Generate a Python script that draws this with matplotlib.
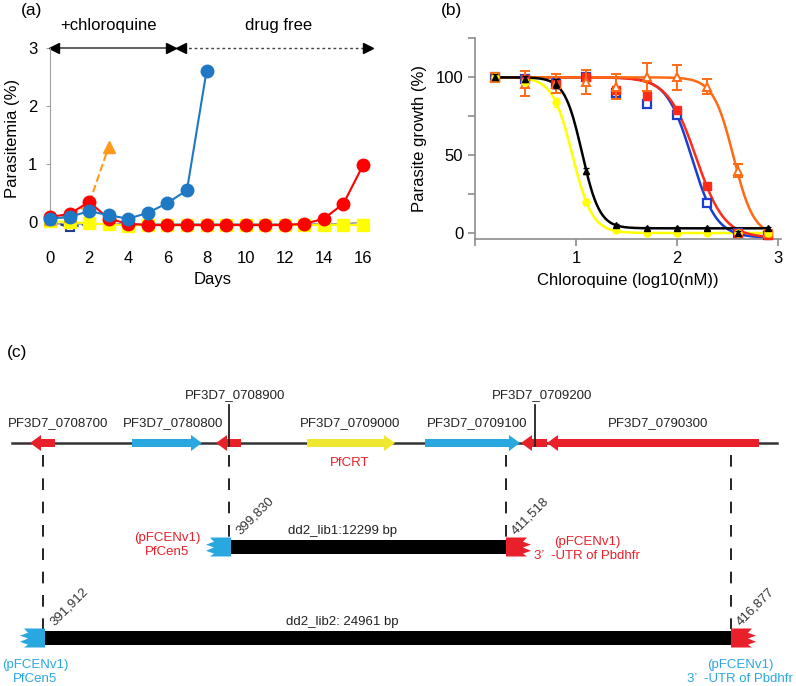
import numpy as np
import matplotlib.pyplot as plt
from matplotlib.patches import Polygon

plt.rcParams['font.family'] = ['Liberation Sans', 'DejaVu Sans']

# ---- (a) parasitemia over days ----
days = [0, 1, 2, 3, 4, 5, 6, 7, 8, 9, 10, 11, 12, 13, 14, 15, 16]
blue_days = [0, 1, 2, 3, 4, 5, 6, 7, 8]
blue_vals = [0.06, 0.09, 0.19, 0.12, 0.06, 0.16, 0.33, 0.55, 2.6]
red_vals = [0.09, 0.14, 0.35, 0.06, -0.03, -0.05, -0.05, -0.05, -0.05,
            -0.05, -0.05, -0.05, -0.05, -0.03, 0.06, 0.32, 0.98]
orange_days = [0, 1, 2, 3]
orange_vals = [0.05, 0.1, 0.32, 1.3]
yellow_vals = [0.02, 0.0, -0.02, -0.04, -0.06, -0.05, -0.05, -0.05, -0.05,
               -0.05, -0.05, -0.05, -0.05, -0.05, -0.05, -0.05, -0.05]
navy_days = [0, 1, 2]
navy_vals = [0.02, -0.09, -0.02]
gray_vals = [-0.03, -0.03, -0.03, -0.03, -0.03, -0.03, -0.03, -0.03, -0.03,
             -0.03, -0.03, -0.03, -0.03, -0.03, -0.03, -0.03, 0.0]

# ---- (b) dose response ----
conc = [0.2, 0.5, 0.8, 1.1, 1.4, 1.7, 2.0, 2.3, 2.6, 2.9]
yellow_b = [100, 97, 84, 20, 2, 0, 0, 0, 0, 0]
black_b = [100, 99, 96, 40, 5, 3, 3, 3, 0, 3]
blue_b = [100, 99, 96, 100, 90, 83, 76, 19, 0, -1]
red_b = [100, 99, 96, 100, 92, 88, 79, 30, 0, -1]
orange_b = [100, 96, 96, 97, 94, 100, 100, 94, 40, 0]
orange_err = [3, 8, 6, 8, 8, 9, 8, 5, 4, 2]
small_err = [2, 2, 3, 2, 1, 1, 1, 1, 1, 1]
# fitted curves: top, bottom, logIC50, hill
fit_yellow = [100, 0, 0.965, 4.4]
fit_black = [100, 3, 1.06, 5.0]
fit_blue = [100, -3, 2.146, 3.5]
fit_red = [100, -3, 2.19, 3.1]
fit_orange = [100, -2, 2.56, 4.3]

# ---- (c) gene map ----
gene_names = ['PF3D7_0708700', 'PF3D7_0780800', 'PF3D7_0708900', 'PF3D7_0709000',
              'PF3D7_0709100', 'PF3D7_0709200', 'PF3D7_0790300']
gene_start = [30, 132, 216, 307, 425, 521, 547]
gene_end = [55, 202, 241, 395, 520, 547, 759]
gene_dir = ['-', '+', '-', '+', '+', '-', '-']
gene_color = ['#e8202a', '#29a8e0', '#e8202a', '#f0e830', '#29a8e0', '#e8202a', '#e8202a']
gene_label_x = [58, 173, 235, 350, 477, 542, 658]
gene_label_high = [False, False, True, False, False, True, False]
gene_leader_x = [None, None, 229, None, None, 535, None]

lib_names = ['dd2_lib1:12299 bp', 'dd2_lib2: 24961 bp']
lib_start = [231, 45]
lib_end = [506, 731]
lib_y = [547, 638]
lib_left_pos = ['399,830', '391,912']
lib_right_pos = ['411,518', '416,877']
lib_text_color = ['#e8202a', '#29a8e0']

fig = plt.figure(figsize=(7.96, 6.86), dpi=100)

# ================= panel (a) =================
ax1 = fig.add_axes([0.0628, 0.666, 0.408, 0.264])
ax1.plot(days, gray_vals, color='#a0a0a0', lw=1.2, marker='^', ms=3,
         mfc='#222222', mec='#222222', clip_on=False, zorder=2)
ax1.plot(days, yellow_vals, color='#ffff00', lw=1.5, marker='s', ms=8,
         clip_on=False, zorder=3)
ax1.plot(navy_days, navy_vals, color='#1f3c88', lw=1.5, ls='--', marker='s',
         ms=6, mfc='white', mec='#1f3c88', mew=1.5, clip_on=False, zorder=2.5)
ax1.plot(orange_days, orange_vals, color='#ff9a1a', lw=1.5, ls='--', marker='^',
         ms=9, clip_on=False, zorder=3.5)
ax1.plot(days, red_vals, color='#ff0000', lw=1.5, marker='o', ms=9,
         clip_on=False, zorder=4)
ax1.plot(blue_days, blue_vals, color='#1f78c4', lw=1.5, marker='o', ms=9,
         clip_on=False, zorder=5)

ax1.set_xlim(0, 16.6)
ax1.set_ylim(-0.12, 3)
ax1.set_xticks([0, 2, 4, 6, 8, 10, 12, 14, 16])
ax1.set_yticks([0, 1, 2, 3])
for s in ['top', 'right', 'bottom']:
    ax1.spines[s].set_visible(False)
ax1.spines['left'].set_color('#a0a0a0')
ax1.spines['left'].set_bounds(-0.05, 3)
ax1.tick_params(axis='x', length=0, pad=16, labelsize=12)
ax1.tick_params(axis='y', length=3, color='#a0a0a0', pad=6, labelsize=12)
ax1.set_xlabel('Days', fontsize=12, labelpad=4)
ax1.set_ylabel('Parasitemia (%)', fontsize=12, labelpad=6)

# treatment arrows
ax1.plot([0.1, 6.3], [3, 3], color='#444444', lw=1.2, clip_on=False)
ax1.plot([0.2], [3], marker='<', color='black', ms=7, clip_on=False)
ax1.plot([6.2], [3], marker='>', color='black', ms=7, clip_on=False)
ax1.plot([6.8, 16.2], [3, 3], color='#444444', lw=1.0, ls=(0, (2, 2)), clip_on=False)
ax1.plot([6.7], [3], marker='<', color='black', ms=7, clip_on=False)
ax1.plot([16.25], [3], marker='>', color='black', ms=7, clip_on=False)
ax1.text(3.0, 3.38, '+chloroquine', ha='center', va='center', fontsize=12)
ax1.text(11.7, 3.38, 'drug free', ha='center', va='center', fontsize=12)
fig.text(0.040, 0.985, '(a)', ha='center', va='center', fontsize=12.5)

# ================= panel (b) =================
ax2 = fig.add_axes([0.5967, 0.6513, 0.3844, 0.2927])
xs = np.linspace(0.2, 2.9, 300)


def hill(x, p):
    top, bottom, ic, h = p
    return bottom + (top - bottom) / (1 + 10 ** ((x - ic) * h))


ax2.plot(xs, hill(xs, fit_yellow), color='#ffff00', lw=1.8, zorder=2)
ax2.plot(xs, hill(xs, fit_black), color='black', lw=1.8, zorder=3)
ax2.plot(xs, hill(xs, fit_blue), color='#1a3fd0', lw=1.8, zorder=2)
ax2.plot(xs, hill(xs, fit_red), color='#ff2a1a', lw=1.8, zorder=2)
ax2.plot(xs, hill(xs, fit_orange), color='#ff6a13', lw=1.8, zorder=2)

ax2.errorbar(conc, blue_b, yerr=small_err, fmt='s', ms=6, mfc='white', mec='#1a3fd0',
             mew=1.6, ecolor='#1a3fd0', capsize=3, lw=1.2, zorder=4, clip_on=False)
ax2.errorbar(conc, red_b, yerr=small_err, fmt='s', ms=5.5, color='#ff2a1a',
             ecolor='#ff2a1a', capsize=3, lw=1.2, zorder=4, clip_on=False)
ax2.errorbar(conc, orange_b, yerr=orange_err, fmt='^', ms=6, mfc='white', mec='#ff6a13',
             mew=1.4, ecolor='#ff6a13', capsize=3.5, lw=1.4, zorder=5, clip_on=False)
ax2.errorbar(conc, yellow_b, yerr=small_err, fmt='o', ms=5, color='#ffff00',
             ecolor='#ffff00', capsize=2, lw=1.2, zorder=5, clip_on=False)
ax2.errorbar(conc, black_b, yerr=small_err, fmt='^', ms=5, color='black',
             ecolor='black', capsize=2, lw=1.2, zorder=6, clip_on=False)

ax2.set_xlim(0, 3.03)
ax2.set_ylim(-4, 125)
ax2.set_xticks([0, 1, 2, 3])
ax2.set_xticklabels(['', '1', '2', '3'])
ax2.set_yticks([0, 25, 50, 75, 100, 125])
ax2.set_yticklabels(['0', '', '50', '', '100', ''])
for s in ['top', 'right']:
    ax2.spines[s].set_visible(False)
for s in ['left', 'bottom']:
    ax2.spines[s].set_color('#8c8c8c')
    ax2.spines[s].set_linewidth(1.2)
ax2.tick_params(length=5, color='#8c8c8c', width=1.2, labelsize=12)
ax2.set_xlabel('Chloroquine (log10(nM))', fontsize=12, labelpad=5)
ax2.set_ylabel('Parasite growth (%)', fontsize=12, labelpad=6)
fig.text(0.567, 0.985, '(b)', ha='center', va='center', fontsize=12.5)

# ================= panel (c) =================
ax3 = fig.add_axes([0, 0, 1, 0.5])
ax3.set_xlim(0, 796)
ax3.set_ylim(686, 343)
ax3.axis('off')
ax3.text(17, 352, '(c)', ha='center', va='center', fontsize=12.5)

y0 = 443
ax3.plot([12, 777], [y0, y0], color='#333333', lw=1.8, zorder=1)

body, head, hl = 4, 8, 11
for name, a, b, d, c, lx, high, lead in zip(gene_names, gene_start, gene_end, gene_dir,
                                            gene_color, gene_label_x, gene_label_high,
                                            gene_leader_x):
    if d == '+':
        pts = [(a, y0 - body), (b - hl, y0 - body), (b - hl, y0 - head), (b, y0),
               (b - hl, y0 + head), (b - hl, y0 + body), (a, y0 + body)]
    else:
        pts = [(b, y0 - body), (a + hl, y0 - body), (a + hl, y0 - head), (a, y0),
               (a + hl, y0 + head), (a + hl, y0 + body), (b, y0 + body)]
    ax3.add_patch(Polygon(pts, closed=True, fc=c, ec='none', zorder=3))
    if high:
        ax3.text(lx, 395, name, ha='center', va='center', fontsize=9.5, color='#222222')
        ax3.plot([lead, lead], [405, 446], color='#222222', lw=1.3, zorder=4)
    else:
        ax3.text(lx, 423, name, ha='center', va='center', fontsize=9.5, color='#222222')
ax3.text(350, 463, 'PfCRT', ha='center', va='center', fontsize=9.5, color='#e8202a')


def left_cap(x_tip, x_bar, yc, hh, color):
    d = 8
    pts = [(x_bar, yc - hh), (x_tip + 4, yc - hh), (x_tip + d, yc - hh * 0.55),
           (x_tip, yc - hh * 0.25), (x_tip + d, yc + hh * 0.05),
           (x_tip, yc + hh * 0.4), (x_tip + d, yc + hh * 0.7),
           (x_tip + 4, yc + hh), (x_bar, yc + hh)]
    ax3.add_patch(Polygon(pts, closed=True, fc=color, ec='none', zorder=3))


def right_cap(x_bar, x_tip, yc, hh, color):
    d = 8
    pts = [(x_bar, yc - hh), (x_tip - 4, yc - hh), (x_tip - d, yc - hh * 0.55),
           (x_tip, yc - hh * 0.25), (x_tip - d, yc + hh * 0.05),
           (x_tip, yc + hh * 0.4), (x_tip - d, yc + hh * 0.7),
           (x_tip - 4, yc + hh), (x_bar, yc + hh)]
    ax3.add_patch(Polygon(pts, closed=True, fc=color, ec='none', zorder=3))


cap_len = 25
for name, a, b, yc, lp, rp, tc in zip(lib_names, lib_start, lib_end, lib_y,
                                      lib_left_pos, lib_right_pos, lib_text_color):
    ax3.fill_between([a, b], yc - 7, yc + 7, color='black', lw=0, zorder=2)
    left_cap(a - cap_len, a, yc, 9.5, '#29a8e0')
    right_cap(b, b + cap_len, yc, 9.5, '#e8202a')
    ax3.plot([a - 2, a - 2], [455, yc - 9], color='#222222', lw=1.4,
             ls=(0, (6, 6)), zorder=1)
    ax3.plot([b, b], [455, yc - 9], color='#222222', lw=1.4,
             ls=(0, (6, 6)), zorder=1)
    ax3.text(342, yc - 16, name, ha='center', va='center', fontsize=9.5, color='#222222')
    ax3.text(a + 12, yc - 10, lp, rotation=45, rotation_mode='anchor', ha='left',
             va='bottom', fontsize=9.5, color='#333333')
    ax3.text(b + 12, yc - 10, rp, rotation=45, rotation_mode='anchor', ha='left',
             va='bottom', fontsize=9.5, color='#333333')

# plasmid labels
ax3.text(167, 545, '(pFCENv1)\nPfCen5', ha='center', va='center', fontsize=9.5,
         color=lib_text_color[0], linespacing=1.15)
ax3.text(587, 549, '(pFCENv1)\n3’  -UTR of Pbdhfr', ha='center', va='center',
         fontsize=9.5, color=lib_text_color[0], linespacing=1.15)
ax3.text(35, 672, '(pFCENv1)\nPfCen5', ha='center', va='center', fontsize=9.5,
         color=lib_text_color[1], linespacing=1.15)
ax3.text(740, 672, '(pFCENv1)\n3’  -UTR of Pbdhfr', ha='center', va='center',
         fontsize=9.5, color=lib_text_color[1], linespacing=1.15)

fig.savefig('out.png', dpi=100)
